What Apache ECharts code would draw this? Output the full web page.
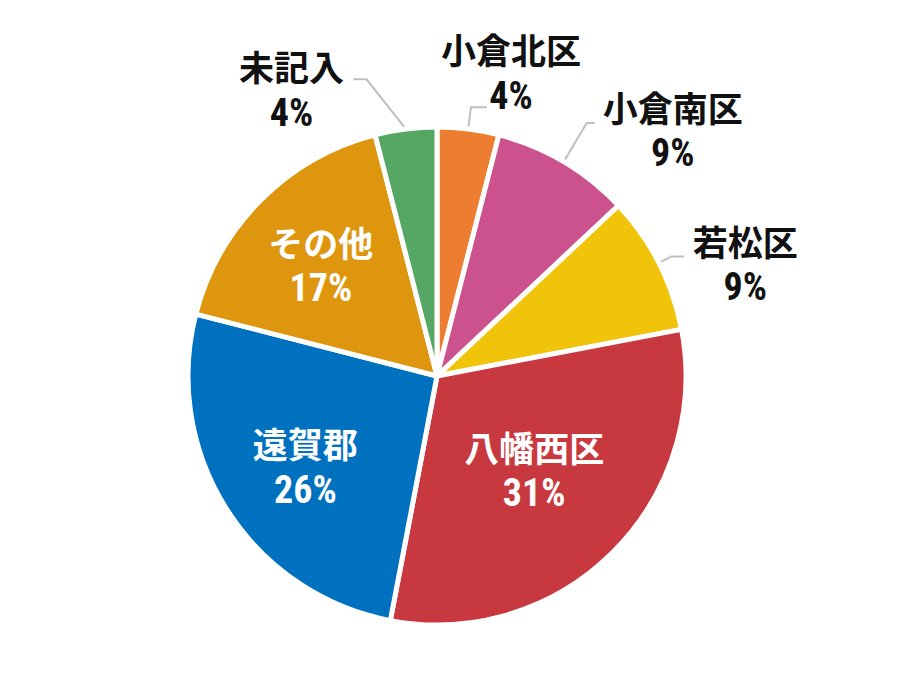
<!DOCTYPE html>
<html>
<head>
<meta charset="utf-8">
<style>
  html, body { margin: 0; padding: 0; background: #fff; }
  #chart { width: 921px; height: 690px; }
  #chart text { font-stretch: condensed !important; }
</style>
<script src="https://cdn.jsdelivr.net/npm/echarts@6/dist/echarts.min.js"></script>
</head>
<body>
<div id="chart"></div>
<script>
(function() {
  // 地域別の割合（％）
  var areas = ['小倉北区', '小倉南区', '若松区', '八幡西区', '遠賀郡', 'その他', '未記入'];
  var shares = [4, 9, 9, 31, 26, 17, 4];
  var colors = ['#ED7D31', '#CB528C', '#F1C40C', '#C8393F', '#0071BF', '#DE960F', '#57A764'];

  // ラベル配置（外側は引き出し線付き）
  var labelPlace = ['outside', 'outside', 'outside', 'inside', 'inside', 'inside', 'outside'];
  var lineLen = [22, 45, 14, 0, 0, 0, 50];
  var lineLen2 = [16, 8, 13, 0, 0, 0, 46];
  var lineBend = [0, 0, 0, 0, 0, 0, 13];
  var labelShift = [[24, -35], [78, 7], [61, 7], [7, 3], [-24, 21], [-26, -22], [-62, 10]];

  var cjk = '"Noto Sans CJK JP", "Noto Sans", sans-serif';
  var digits = 'Roboto, "Noto Sans", sans-serif';

  function richFor(color) {
    return {
      n: { fontFamily: cjk, fontWeight: 'bold', fontSize: 35, lineHeight: 47, color: color, align: 'center' },
      p: { fontFamily: digits, fontWeight: 'bold', fontSize: 38, lineHeight: 47, color: color, align: 'center' }
    };
  }

  var data = areas.map(function(name, i) {
    var inside = labelPlace[i] === 'inside';
    return {
      name: name,
      value: shares[i],
      itemStyle: { color: colors[i] },
      label: {
        position: labelPlace[i],
        rich: richFor(inside ? '#fff' : '#111')
      },
      labelLine: {
        show: !inside,
        length: lineLen[i],
        length2: lineLen2[i],
        lineStyle: { color: '#BFBFBF', width: 2 }
      }
    };
  });

  var chart = echarts.init(document.getElementById('chart'), null, { renderer: 'svg' });
  chart.setOption({
    animation: false,
    backgroundColor: '#fff',
    series: [{
      type: 'pie',
      center: [437, 376],
      radius: 249,
      startAngle: 90,
      clockwise: true,
      avoidLabelOverlap: false,
      itemStyle: { borderColor: '#fff', borderWidth: 5 },
      label: {
        show: true,
        formatter: '{n|{b}}\n{p|{c}%}',
        distanceToLabelLine: 5
      },
      labelLayout: function(p) {
        var i = p.dataIndex;
        var s = labelShift[i];
        if (labelPlace[i] === 'outside' && p.labelLinePoints) {
          var pts = p.labelLinePoints;
          var e = pts[2];
          var mid = pts[1];
          if (lineBend[i]) {
            // 引き出し線を斜めに折る
            mid = [e[0] + (e[0] < pts[0][0] ? lineBend[i] : -lineBend[i]), e[1]];
          }
          return {
            x: e[0] + s[0], y: e[1] + s[1],
            align: 'center', verticalAlign: 'middle',
            labelLinePoints: [pts[0], mid, e]
          };
        }
        var r = p.labelRect;
        return {
          x: r.x + r.width / 2 + s[0], y: r.y + r.height / 2 + s[1],
          align: 'center', verticalAlign: 'middle'
        };
      },
      data: data
    }]
  });
  window.addEventListener('resize', function() { chart.resize(); });
})();
</script>
</body>
</html>
